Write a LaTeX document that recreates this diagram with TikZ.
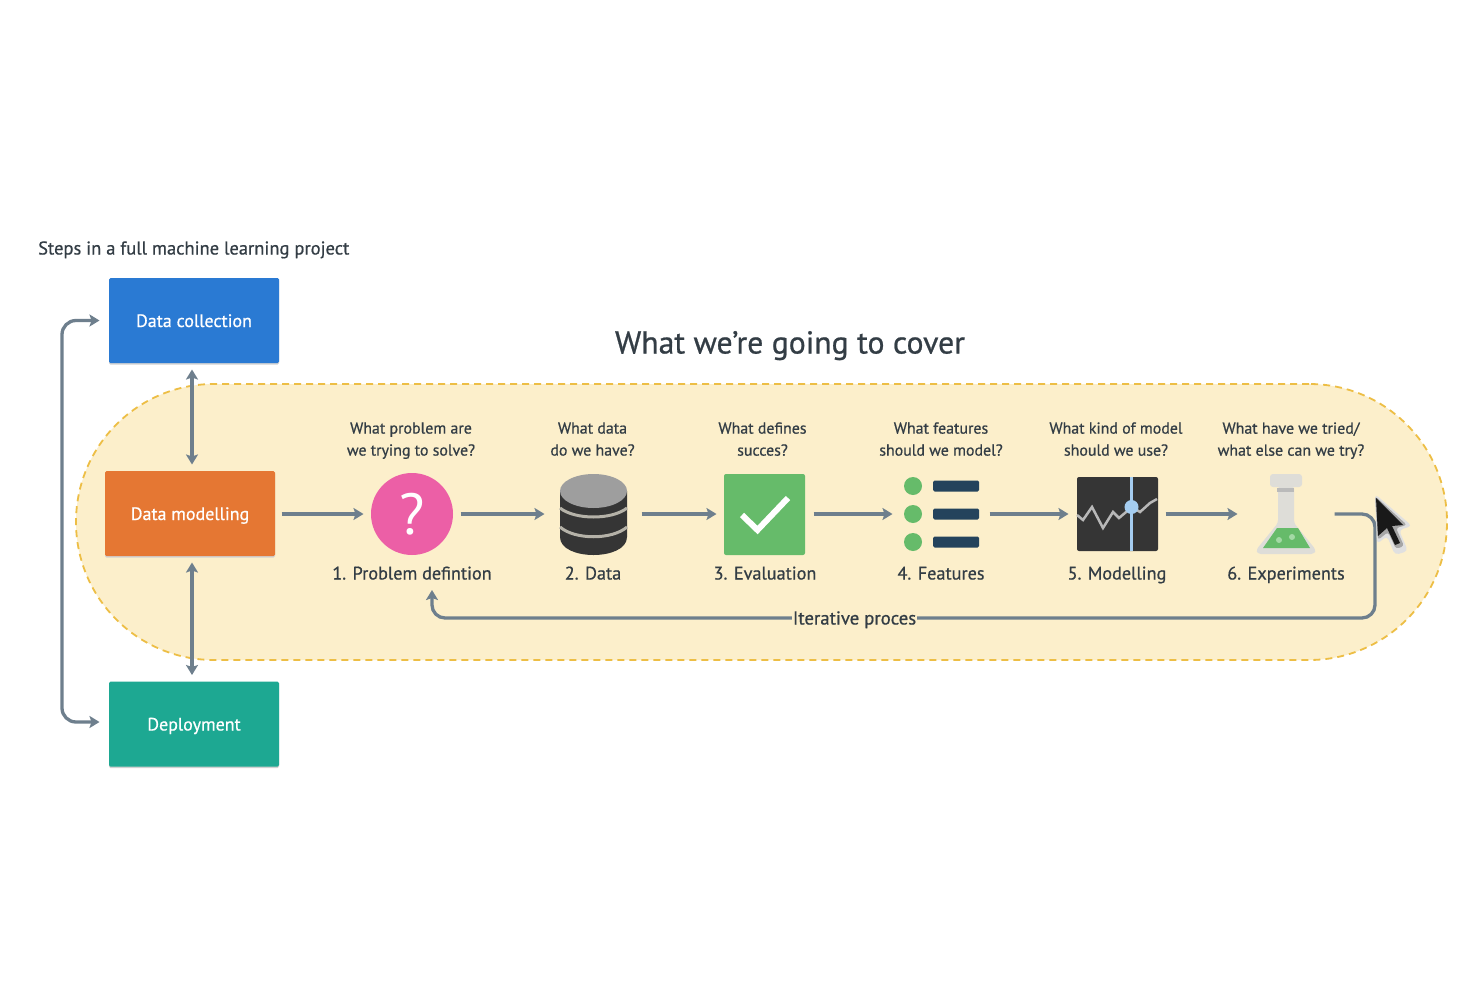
\documentclass[tikz,border=0pt]{standalone}
\usepackage{fontspec}
\setmainfont{PT Sans}[FakeBold=0.7]
\newfontfamily\thinfont{PT Sans}
\definecolor{ink}{HTML}{333D45}
\definecolor{conn}{HTML}{6E7F8D}
\definecolor{pillfill}{HTML}{FCEFCB}
\definecolor{pilledge}{HTML}{EDBE45}
\definecolor{blueb}{HTML}{2A7AD3}
\definecolor{orangeb}{HTML}{E57733}
\definecolor{tealb}{HTML}{1DA892}
\definecolor{greeni}{HTML}{66BB6A}
\definecolor{darki}{HTML}{353535}
\definecolor{navyi}{HTML}{24435C}
\definecolor{flaskg}{HTML}{DEDDD8}
\definecolor{qpink}{HTML}{EC5FA6}
\definecolor{lineblue}{HTML}{A5CDF0}
\definecolor{band}{HTML}{B5B2A8}
\definecolor{bubble}{HTML}{A3D9A5}
\usetikzlibrary{arrows.meta}
\tikzset{
  phase/.style={minimum width=170pt,minimum height=85pt,inner sep=0pt,outer sep=6.5pt,text=white,font=\fontsize{18}{22}\selectfont,rounded corners=1.5pt,text height=13pt,text depth=0pt,
    preaction={fill=black!18,transform canvas={yshift=-1.5pt}}},
  icon/.style={minimum width=82pt,minimum height=82pt,inner sep=0pt,outer sep=7.5pt},
  flow/.style={draw=conn,line width=3.3pt,-{Stealth[length=10pt,width=12pt,inset=2pt]}},
  both/.style={draw=conn,line width=3.3pt,{Stealth[length=10pt,width=12pt,inset=2pt]}-{Stealth[length=10pt,width=12pt,inset=2pt]}},
  ask/.style={align=center,text=ink,font=\fontsize{15.9}{22}\selectfont,inner sep=0pt,text depth=4pt},
  steplabel/.style={text=ink,font=\fontsize{18.2}{22}\selectfont,inner sep=0pt,text height=13pt,text depth=0pt},
}
\begin{document}
\begin{tikzpicture}[x=1pt,y=-1pt]
\useasboundingbox (0,0) rectangle (1483,990);
\fill[white] (0,0) rectangle (1483,990);
\node[draw=pilledge,fill=pillfill,line width=1.8pt,dash pattern=on 7pt off 5pt,rounded corners=138pt,minimum width=1371pt,minimum height=276pt,inner sep=0pt] (pill) at (761.5,522) {};
\node[anchor=west,text=ink,font=\fontsize{18.5}{22}\selectfont,inner sep=0pt,text height=13pt,text depth=0pt] (head) at (38,248) {Steps in a full machine learning project};
\node[text=ink,font=\fontsize{31.7}{36}\selectfont,inner sep=0pt,text height=23pt,text depth=0pt] (title) at (790,342) {What we're going to cover};
\node[phase,fill=blueb] (dc) at (194,320.5) {Data collection};
\node[phase,fill=orangeb] (dm) at (190,513.5) {Data modelling};
\node[phase,fill=tealb] (dp) at (194,724) {Deployment};
% icon frames
\node[icon] (i1) at (412,514) {};
\node[icon] (i2) at (593,514) {};
\node[icon] (i3) at (765,514) {};
\node[icon] (i4) at (941,514) {};
\node[icon] (i5) at (1117,514) {};
\node[icon] (i6) at (1286,514) {};
% 1 question
\fill[qpink] (412,514) circle (41pt);
\node[text=white,font=\thinfont\fontsize{58}{58}\selectfont,inner sep=0pt] (qm) at (412,514) {?};
% 2 database
\fill[darki] (560,491) -- (560,537) .. controls (560,561) and (627,561) .. (627,537) -- (627,491) -- cycle;
\draw[line width=3pt,draw=band] (560,508) .. controls (575,520) and (612,520) .. (627,508);
\draw[line width=3pt,draw=band] (560,527) .. controls (575,540) and (612,540) .. (627,527);
\fill[black!38] (593.5,491) ellipse (33.5pt and 17pt);
% 3 check
\fill[greeni,rounded corners=2pt] (724,474) rectangle (805,555);
\draw[white,line width=6pt] (742,515) -- (757.5,530) -- (788,498);
% 4 features
\foreach \y in {486,514,542}{
  \fill[greeni] (913,\y) circle (9pt);
  \fill[navyi,rounded corners=1.5pt] (933,\y-5.5) rectangle (979,\y+5.5);
}
% 5 modelling
\fill[darki,rounded corners=2pt] (1077,477) rectangle (1158,551);
\draw[black!28,line width=2.5pt] (1077,515) -- (1083,520) -- (1092,507) -- (1103,528) -- (1113,512) -- (1119,518) -- (1132,507) -- (1140,512) -- (1150,503) -- (1157,499);
\draw[lineblue,line width=3pt] (1131.5,477) -- (1131.5,551);
\fill[lineblue] (1131.5,507) circle (7pt);
% 6 flask
\fill[flaskg,rounded corners=3pt] (1270,474) rectangle (1302,487);
\fill[flaskg,rounded corners=3pt] (1278,486) -- (1294,486) -- (1294,523) -- (1316,550) -- (1314,554) -- (1258,554) -- (1256,550) -- (1278,523) -- cycle;
\fill[black!27] (1277,488) rectangle (1294,492);
\fill[greeni] (1277,528) -- (1298,528) -- (1310,548) -- (1263,548) -- cycle;
\fill[bubble] (1279,540) circle (3pt) (1292,537) circle (3pt);
% questions
\node[ask] (q1) at (411,441) {What problem are\\we trying to solve?};
\node[ask] (q2) at (592.5,441) {What data\\do we have?};
\node[ask] (q3) at (762.5,441) {What defines\\succes?};
\node[ask] (q4) at (941,441) {What features\\should we model?};
\node[ask] (q5) at (1116,441) {What kind of model\\should we use?};
\node[ask] (q6) at (1291,441) {What have we tried/\\what else can we try?};
% step labels
\node[steplabel] (s1) at (412,573) {1. Problem defintion};
\node[steplabel] (s2) at (593,573) {2. Data};
\node[steplabel] (s3) at (765,573) {3. Evaluation};
\node[steplabel] (s4) at (941,573) {4. Features};
\node[steplabel] (s5) at (1117,573) {5. Modelling};
\node[steplabel] (s6) at (1286,573) {6. Experiments};
% connectors
\draw[flow] (dm.east |- i1) -- (i1);
\draw[flow] (i1) -- (i2);
\draw[flow] (i2) -- (i3);
\draw[flow] (i3) -- (i4);
\draw[flow] (i4) -- (i5);
\draw[flow] (i5) -- (i6);
\coordinate (vx) at (192,0);
\draw[both] (dc.south -| vx) -- (dm.north -| vx);
\draw[both] (dm.south -| vx) -- (dp.north -| vx);
\coordinate (lx) at (62,0);
\coordinate (yin) at (0,722);
\coordinate (dpin) at (dp.west |- yin);
\coordinate (dcin) at ([xshift=-3pt]dc.west);
\coordinate (dpin2) at ([xshift=-3pt]dpin);
\draw[both,rounded corners=14pt] (dcin) -- (dcin -| lx) -- (dpin2 -| lx) -- (dpin2);
\coordinate (rx) at (1375,618);
\coordinate (ltop) at (432,590);
\draw[flow,rounded corners=13pt] (i6.east) -- (i6.east -| rx) -- (rx) -- (rx -| ltop) -- (ltop);
\node[fill=pillfill,text=ink,font=\fontsize{18.7}{22}\selectfont,inner xsep=1pt,inner ysep=2pt,text height=13pt,text depth=4pt] (iter) at (854.5,620) {Iterative proces};
% cursor
\fill[black!12,rounded corners=4pt] (1375,494) -- (1412,526) -- (1399,530) -- (1408,551) -- (1395,555) -- (1387,536) -- (1377,544) -- cycle;
\fill[black!35,rounded corners=3pt] (1375,496) -- (1407,525) -- (1396,528) -- (1404,546) -- (1396,549) -- (1388,532) -- (1378,540) -- cycle;
\fill[black!90] (1376,498) -- (1403,525) -- (1392,526) -- (1400,543) -- (1395,545) -- (1387,528) -- (1378,536) -- cycle;
\end{tikzpicture}
\end{document}
